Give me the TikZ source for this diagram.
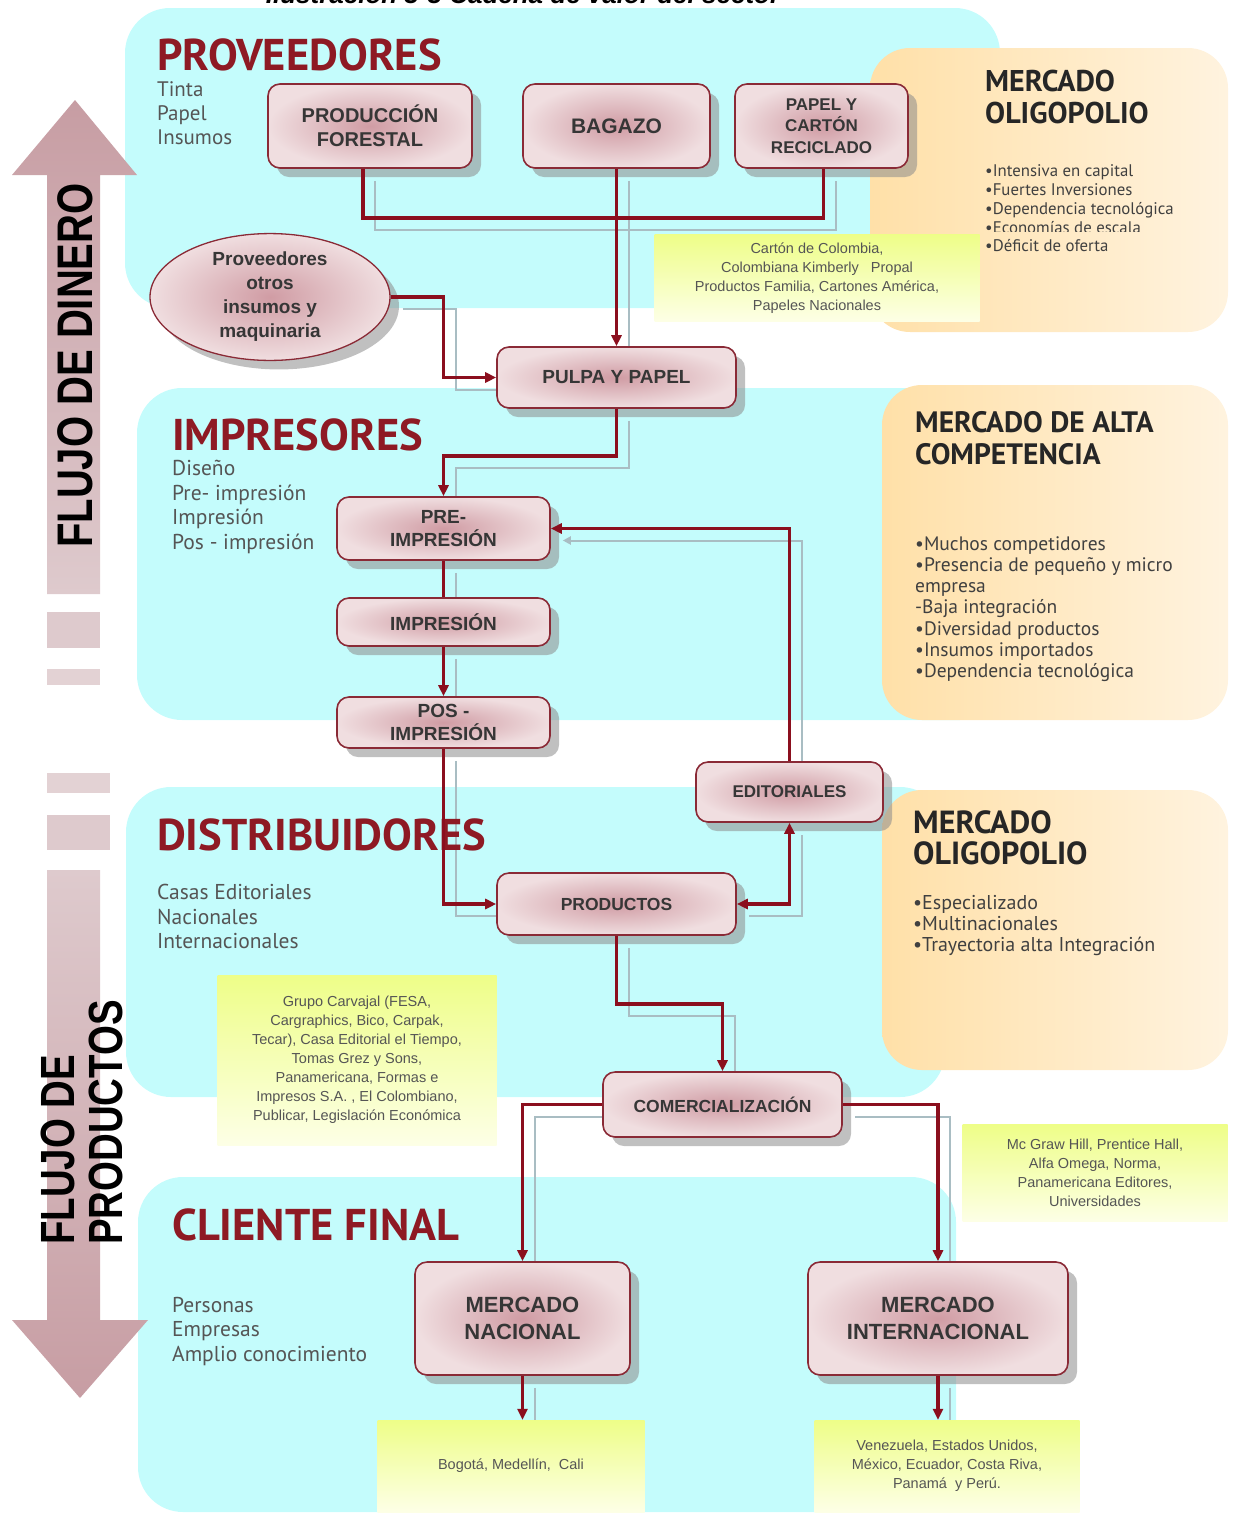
\documentclass[tikz,border=0pt]{standalone}
\usepackage{fontspec}
\setmainfont{Liberation Sans}
\newfontfamily\ptsans{PT Sans}
\usetikzlibrary{arrows.meta,shadows,shapes.geometric}
\pgfdeclarelayer{background}
\pgfdeclarelayer{lines}
\pgfsetlayers{background,lines,main}
\definecolor{cyanbg}{HTML}{C4FCFC}
\definecolor{titlered}{HTML}{8E1A24}
\definecolor{linered}{HTML}{8B0F1E}
\definecolor{shadowln}{HTML}{A9BDC3}
\definecolor{boxin}{HTML}{D09CA4}
\definecolor{boxout}{HTML}{F0DEE0}
\definecolor{boxborder}{HTML}{8A2A36}
\definecolor{orA}{HTML}{FFE0A8}
\definecolor{orB}{HTML}{FFF3DF}
\definecolor{yeA}{HTML}{EEFE88}
\definecolor{yeB}{HTML}{FDFFE6}
\definecolor{arrowA}{HTML}{C79DA3}
\definecolor{arrowB}{HTML}{DECACD}
\definecolor{txtgrey}{HTML}{555555}
\definecolor{boxtxt}{HTML}{363636}
\newcommand\fsz[2]{\fontsize{#1}{#2}\selectfont}
\begin{document}
\begin{tikzpicture}[x=1pt,y=-1pt,
  panel/.style={fill=cyanbg, rounded corners=45pt},
  orbox/.style={left color=orA, right color=orB, rounded corners=40pt},
  yebox/.style={top color=yeA, bottom color=yeB, inner sep=0pt, align=center, text=txtgrey, font=\fsz{14.5}{19}},
  stage/.style={draw=boxborder, line width=1.6pt, rounded corners=12pt, inner color=boxin, outer color=boxout,
     drop shadow={shadow xshift=9pt, shadow yshift=-9pt, fill=black!45, opacity=0.55},
     text=boxtxt, align=center, inner sep=0pt},
  conn/.style={draw=linered, line width=3.5pt, -{Triangle[length=11pt,width=10pt]}},
  connplain/.style={draw=linered, line width=3.5pt},
  shl/.style={draw=shadowln, line width=2pt, -{Triangle[length=8pt,width=8pt]}, transform canvas={xshift=12pt,yshift=-12pt}},
  shlplain/.style={draw=shadowln, line width=2pt, transform canvas={xshift=12pt,yshift=-12pt}},
  sectitle/.style={anchor=base west, inner sep=0pt, text=titlered, font=\ptsans\bfseries\fsz{44.5}{48}},
  sublist/.style={anchor=north west, inner sep=0pt, align=left, text=txtgrey, font=\ptsans\fsz{21.5}{24.5}},
  ortitle/.style={anchor=north west, inner sep=0pt, align=left, text=black!85, font=\ptsans\bfseries},
  orlist/.style={anchor=north west, inner sep=0pt, align=left, text=black!75, font=\ptsans},
  bigtxt/.style={inner sep=0pt, font=\bfseries\fsz{50}{50}, text=black}
]
\useasboundingbox (0,0) rectangle (1233,1516);

% ---------- background panels ----------
\begin{pgfonlayer}{background}
\path[panel] (125,8) rectangle (1000,308);
\path[panel] (137,388) rectangle (1005,720);
\path[panel] (126,787) rectangle (945,1097);
\path[panel] (138,1177) rectangle (956,1512);
\path[orbox] (870,48) rectangle (1228,332);
\path[orbox] (882,385) rectangle (1228,720);
\path[orbox] (882,790) rectangle (1228,1070);
% left flow arrows
\path[top color=arrowA, bottom color=arrowB] (47,594) -- (47,175) -- (12,175) -- (75,100) -- (137,175) -- (100,175) -- (100,594) -- cycle;
\fill[arrowB] (47,612) rectangle (100,648);
\fill[arrowB!85] (47,669) rectangle (100,685);
\fill[arrowB!85] (47,773) rectangle (110,793);
\fill[arrowB] (47,815) rectangle (110,850);
\path[top color=arrowB, bottom color=arrowA] (47,870) -- (100,870) -- (100,1320) -- (148,1320) -- (80,1398) -- (12,1320) -- (47,1320) -- cycle;
\end{pgfonlayer}

% ---------- caption (cut off at top, as in the reference) ----------
\node[anchor=base, inner sep=0pt, font=\bfseries\itshape\fsz{26}{28}] (caption) at (523,3) {Ilustración 3-3 Cadena de valor del sector};

% ---------- flow labels ----------
\node[bigtxt, rotate=90, anchor=west] (fdinero) at (75,548) {\scalebox{0.8}[1]{FLUJO DE DINERO}};
\node[bigtxt, rotate=90, anchor=west, font=\bfseries\fsz{48}{48}] (fprod1) at (58,1245) {\scalebox{0.8}[1]{FLUJO DE}};
\node[bigtxt, rotate=90, anchor=west, font=\bfseries\fsz{48}{48}] (fprod2) at (106,1245) {\scalebox{0.8}[1]{PRODUCTOS}};

% ---------- section titles and lists ----------
\node[sectitle] (tprov) at (157,70) {PROVEEDORES};
\node[sublist, font=\ptsans\fsz{21}{24}] (lprov) at (157,81) {Tinta\\Papel\\Insumos};
\node[sectitle] (timp) at (172,450) {IMPRESORES};
\node[sublist] (limp) at (172,460) {Diseño\\Pre- impresión\\Impresión\\Pos - impresión};
\node[sectitle] (tdist) at (157,850) {DISTRIBUIDORES};
\node[sublist] (ldist) at (157,884) {Casas Editoriales\\Nacionales\\Internacionales};
\node[sectitle] (tcli) at (172,1240) {CLIENTE FINAL};
\node[sublist] (lcli) at (172,1297) {Personas\\Empresas\\Amplio conocimiento};

% ---------- market boxes text ----------
\node[ortitle, font=\ptsans\bfseries\fsz{30}{32}] (o1t) at (985,70) {MERCADO\\OLIGOPOLIO};
\node[orlist, font=\ptsans\fsz{16.8}{19}] (o1l) at (985,164) {•Intensiva en capital\\•Fuertes Inversiones\\•Dependencia tecnológica};
\begin{scope}
\clip (980,215) rectangle (1200,231);
\node[orlist, font=\ptsans\fsz{16.8}{19}] (o1c) at (985,221) {•Economías de escala};
\end{scope}
\node[orlist, font=\ptsans\fsz{16.8}{19}] (o1d) at (985,239) {•Déficit de oferta};
\node[ortitle, font=\ptsans\bfseries\fsz{29.5}{32}] (o2t) at (915,411) {MERCADO DE ALTA\\COMPETENCIA};
\node[orlist, font=\ptsans\fsz{19.5}{21.3}] (o2l) at (915,536) {•Muchos competidores\\•Presencia de pequeño y micro\\empresa\\-Baja integración\\•Diversidad productos\\•Insumos importados\\•Dependencia tecnológica};
\node[ortitle, font=\ptsans\bfseries\fsz{32}{31}] (o3t) at (913,810) {MERCADO\\OLIGOPOLIO};
\node[orlist, font=\ptsans\fsz{20}{21}] (o3l) at (913,895) {•Especializado\\•Multinacionales\\•Trayectoria alta Integración};

% ---------- yellow company boxes ----------
\node[yebox, minimum width=325, minimum height=87] (y1) at (817,278) {Cartón de Colombia,\\Colombiana Kimberly \ \ Propal\\Productos Familia, Cartones América,\\Papeles Nacionales};
\node[yebox, minimum width=279, minimum height=170] (y2) at (357,1060) {Grupo Carvajal (FESA,\\Cargraphics, Bico, Carpak,\\Tecar), Casa Editorial el Tiempo,\\Tomas Grez y Sons,\\Panamericana, Formas e\\Impresos S.A. , El Colombiano,\\Publicar, Legislación Económica};
\node[yebox, minimum width=265, minimum height=97] (y3) at (1095,1173) {Mc Graw Hill, Prentice Hall,\\Alfa Omega, Norma,\\Panamericana Editores,\\Universidades};
\node[yebox, minimum width=267, minimum height=92] (y4) at (511,1466) {Bogotá, Medellín, \ Cali};
\node[yebox, minimum width=265, minimum height=92] (y5) at (947,1466) {Venezuela, Estados Unidos,\\México, Ecuador, Costa Riva,\\Panamá \ y Perú.};

% ---------- chain stages ----------
\node[stage, minimum width=204, minimum height=84, font=\bfseries\fsz{20}{24}] (pf) at (370,126) {PRODUCCIÓN\\FORESTAL};
\node[stage, minimum width=187, minimum height=84, font=\bfseries\fsz{21}{24}] (bag) at (616.5,126) {BAGAZO};
\node[stage, minimum width=173, minimum height=84, font=\bfseries\fsz{17}{21.5}] (pap) at (821.5,126) {PAPEL Y\\CARTÓN\\RECICLADO};
\node[stage, ellipse, minimum width=240, minimum height=97, line width=1.3pt, font=\bfseries\fsz{19}{24}] (prov) at (270,297) {Proveedores\\otros\\insumos y\\maquinaria};
\node[stage, minimum width=239, minimum height=61, font=\bfseries\fsz{19}{22}] (pulpa) at (616.5,377.5) {PULPA Y PAPEL};
\node[stage, minimum width=213, minimum height=63, font=\bfseries\fsz{19}{23}] (pre) at (443.5,528.5) {PRE-\\IMPRESIÓN};
\node[stage, minimum width=213, minimum height=48, font=\bfseries\fsz{19}{23}] (imp) at (443.5,622) {IMPRESIÓN};
\node[stage, minimum width=213, minimum height=51, font=\bfseries\fsz{19}{23}] (pos) at (443.5,722.5) {POS -\\IMPRESIÓN};
\node[stage, minimum width=187, minimum height=60, font=\bfseries\fsz{17}{20}] (edit) at (789.5,792) {EDITORIALES};
\node[stage, minimum width=239, minimum height=62, font=\bfseries\fsz{17.5}{20}] (prod) at (616.5,904) {PRODUCTOS};
\node[stage, minimum width=239, minimum height=65, font=\bfseries\fsz{17.5}{20}] (com) at (722.5,1104.5) {COMERCIALIZACIÓN};
\node[stage, minimum width=215, minimum height=113, font=\bfseries\fsz{22}{27}] (nac) at (522.5,1318.5) {MERCADO\\NACIONAL};
\node[stage, minimum width=260, minimum height=113, font=\bfseries\fsz{22}{27}] (int) at (938,1318.5) {MERCADO\\INTERNACIONAL};

% ---------- connector shadows ----------
\begin{pgfonlayer}{lines}
\draw[shlplain] ([xshift=-7pt]pf.south) -- ++(0,49) -| ([xshift=2pt]pap.south);
\draw[shl] (bag.south) -- (pulpa.north);
\draw[shl] (prov.east) -- ++(53,0) |- (pulpa.west);
\draw[shl] (pulpa.south) -- ++(0,47) -| (pre.north);
\draw[shlplain] (pre.south) -- (imp.north);
\draw[shl] (imp.south) -- (pos.north);
\draw[shl] (pos.south) |- (prod.west);
\draw[shl] (edit.north) |- (pre.east);
\draw[shlplain] (prod.east) -| (edit.south);
\draw[shl] (prod.south) -- ++(0,68) -| (com.north);
\draw[shl] (com.west) -| (nac.north);
\draw[shl] (com.east) -| (int.north);
\draw[shl] (nac.south) -- (nac.south |- y4.north);
\draw[shl] (int.south) -- (int.south |- y5.north);
\end{pgfonlayer}

% ---------- connectors ----------
\draw[connplain] ([xshift=-7pt]pf.south) -- ++(0,49) -| ([xshift=2pt]pap.south);
\draw[conn] (bag.south) -- (pulpa.north);
\draw[conn] (prov.east) -- ++(53,0) |- (pulpa.west);
\draw[conn] (pulpa.south) -- ++(0,47) -| (pre.north);
\draw[connplain] (pre.south) -- (imp.north);
\draw[conn] (imp.south) -- (pos.north);
\draw[conn] (pos.south) |- (prod.west);
\draw[conn] (edit.north) |- (pre.east);
\draw[conn, {Triangle[length=11pt,width=10pt]}-{Triangle[length=11pt,width=10pt]}] (prod.east) -| (edit.south);
\draw[conn] (prod.south) -- ++(0,68) -| (com.north);
\draw[conn] (com.west) -| (nac.north);
\draw[conn] (com.east) -| (int.north);
\draw[conn] (nac.south) -- (nac.south |- y4.north);
\draw[conn] (int.south) -- (int.south |- y5.north);
\end{tikzpicture}
\end{document}
